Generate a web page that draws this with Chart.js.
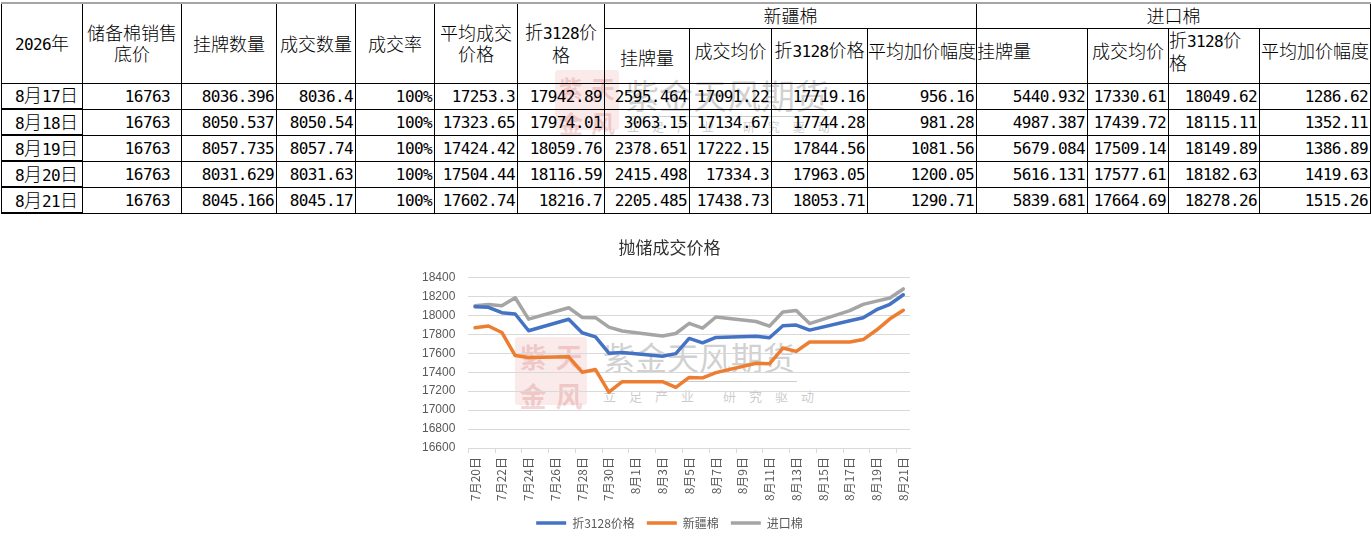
<!DOCTYPE html>
<html lang="zh-CN">
<head>
<meta charset="utf-8">
<title>抛储成交价格</title>
<script src="https://cdn.jsdelivr.net/npm/chart.js@4.4.1/dist/chart.umd.min.js"></script>
<style>
html, body { margin: 0; padding: 0; background: #fff; }
body { width: 1371px; height: 545px; position: relative; overflow: hidden; font-family: "Noto Sans CJK SC", sans-serif; }

#tbl { position: absolute; left: 1px; top: 2px; width: 1369px; border-collapse: collapse; table-layout: fixed; z-index: 2; font-size: 18px; font-weight: 300; color: #000; }
#tbl td { border: 1px solid #000; padding: 0 2px 0 0; white-space: nowrap; overflow: visible; line-height: 21px; text-align: right; vertical-align: middle; }
#tbl tr.a td, #tbl tr.b td { text-align: center; padding: 0; }
#tbl tr.a td { border-top: 2px solid #a6a6a6; }
#tbl tr.a { height: 25px; }
#tbl tr.b { height: 55px; }
#tbl tr.d { height: 26px; }
#tbl td.dt { border-bottom: 2px solid #000; padding-right: 4px; }
#tbl .up { padding-bottom: 10px !important; }
#tbl .lt { text-align: left !important; }
.n { font-family: "DejaVu Sans Mono", monospace; font-size: 16px; letter-spacing: -0.6px; font-weight: normal; }

#chartBox { position: absolute; left: 397px; top: 232px; width: 543px; height: 307px; z-index: 2; }

.seal { position: absolute; background: rgba(236, 170, 170, 0.25); border-radius: 3px; z-index: 1;
        display: grid; grid-template-columns: 1fr 1fr; grid-template-rows: 1fr 1fr; place-items: center;
        color: rgba(215, 110, 110, 0.28); font-family: "Noto Sans CJK SC"; font-weight: bold; }
.wmText { position: absolute; z-index: 1; color: rgba(170, 170, 170, 0.55); white-space: nowrap; line-height: 1; }
.wmLine { position: absolute; z-index: 1; height: 1px; background: rgba(170, 170, 170, 0.6); }
.wmSub { position: absolute; z-index: 1; color: rgba(170, 170, 170, 0.6); white-space: nowrap; line-height: 1; letter-spacing: 13px; }
</style>
</head>
<body>

<table id="tbl">
  <colgroup>
    <col style="width:81px"><col style="width:99px"><col style="width:95px"><col style="width:79px">
    <col style="width:79px"><col style="width:83px"><col style="width:87px"><col style="width:85px">
    <col style="width:82px"><col style="width:96px"><col style="width:109px"><col style="width:111px">
    <col style="width:81px"><col style="width:91px"><col style="width:111px">
  </colgroup>
  <tbody id="tbody">
    <tr class="a">
      <td rowspan="2"><span class="n">2026</span>年</td>
      <td rowspan="2">储备棉销售<br>底价</td>
      <td rowspan="2">挂牌数量</td>
      <td rowspan="2">成交数量</td>
      <td rowspan="2">成交率</td>
      <td rowspan="2">平均成交<br>价格</td>
      <td rowspan="2">折<span class="n">3128</span>价<br>格</td>
      <td colspan="4">新疆棉</td>
      <td colspan="4">进口棉</td>
    </tr>
    <tr class="b">
      <td style="padding-top:4px">挂牌量</td>
      <td class="up">成交均价</td>
      <td class="up">折<span class="n">3128</span>价格</td>
      <td class="up">平均加价幅度</td>
      <td class="up lt">挂牌量</td>
      <td class="up">成交均价</td>
      <td class="up lt">折<span class="n">3128</span>价<br>格</td>
      <td class="up">平均加价幅度</td>
    </tr>
  </tbody>
</table>

<!-- watermark over the table -->
<div class="seal" style="left:555px;top:70px;width:64px;height:60px;font-size:24px"><span>紫</span><span>天</span><span>金</span><span>风</span></div>
<div class="wmText" style="left:625px;top:78px;font-size:34px">紫金天风期货</div>
<div class="wmLine" style="left:625px;top:116px;width:205px"></div>
<div class="wmSub" style="left:627px;top:121px;font-size:12px">立足产业&nbsp;研究驱动</div>

<!-- watermark over the chart -->
<div class="seal" style="left:515px;top:337px;width:72px;height:68px;font-size:27px"><span>紫</span><span>天</span><span>金</span><span>风</span></div>
<div class="wmText" style="left:603px;top:340px;font-size:32px">紫金天风期货</div>
<div class="wmLine" style="left:603px;top:381px;width:194px"></div>
<div class="wmSub" style="left:603px;top:389px;font-size:13px">立足产业&nbsp;研究驱动</div>

<div id="chartBox"><canvas id="chart"></canvas></div>

<script>
// table: 2026年 8月17日-8月21日
const dates = ['8月17日', '8月18日', '8月19日', '8月20日', '8月21日']
const floorPrice = [16763, 16763, 16763, 16763, 16763]
const listedQty = ['8036.396', '8050.537', '8057.735', '8031.629', '8045.166']
const dealQty = ['8036.4', '8050.54', '8057.74', '8031.63', '8045.17']
const dealRate = ['100%', '100%', '100%', '100%', '100%']
const avgDealPrice = ['17253.3', '17323.65', '17424.42', '17504.44', '17602.74']
const avg3128Price = ['17942.89', '17974.01', '18059.76', '18116.59', '18216.7']

const xjListed = ['2595.464', '3063.15', '2378.651', '2415.498', '2205.485']
const xjAvgPrice = ['17091.22', '17134.67', '17222.15', '17334.3', '17438.73']
const xj3128Price = ['17719.16', '17744.28', '17844.56', '17963.05', '18053.71']
const xjMarkup = ['956.16', '981.28', '1081.56', '1200.05', '1290.71']

const jkListed = ['5440.932', '4987.387', '5679.084', '5616.131', '5839.681']
const jkAvgPrice = ['17330.61', '17439.72', '17509.14', '17577.61', '17664.69']
const jk3128Price = ['18049.62', '18115.11', '18149.89', '18182.63', '18278.26']
const jkMarkup = ['1286.62', '1352.11', '1386.89', '1419.63', '1515.26']

// chart: 抛储成交价格 (daily axis, weekends have no trade)
const days = ['7月20日', '7月21日', '7月22日', '7月23日', '7月24日', '7月25日', '7月26日',
    '7月27日', '7月28日', '7月29日', '7月30日', '7月31日', '8月1日', '8月2日',
    '8月3日', '8月4日', '8月5日', '8月6日', '8月7日', '8月8日', '8月9日',
    '8月10日', '8月11日', '8月12日', '8月13日', '8月14日', '8月15日', '8月16日',
    '8月17日', '8月18日', '8月19日', '8月20日', '8月21日']

const line3128 = [18090, 18085, 18028, 18014, 17837, null, null,
    17958, 17816, 17773, 17600, 17607, null, null,
    17568, 17596, 17756, 17710, 17766, null, null,
    17780, 17763, 17890, 17897, 17844, null, null,
    17942.89, 17974.01, 18059.76, 18116.59, 18216.7]

const lineXinjiang = [17869, 17887, 17819, 17575, 17555, null, null,
    17562, 17400, 17428, 17190, 17300, null, null,
    17300, 17240, 17345, 17340, 17395, null, null,
    17495, 17488, 17655, 17620, 17718, null, null,
    17719.16, 17744.28, 17844.56, 17963.05, 18053.71]

const lineImport = [18100, 18115, 18100, 18185, 17960, null, null,
    18080, 17978, 17975, 17875, 17835, null, null,
    17782, 17808, 17915, 17865, 17982, null, null,
    17935, 17886, 18035, 18050, 17913, null, null,
    18049.62, 18115.11, 18149.89, 18182.63, 18278.26]

const seriesNames = ['折3128价格', '新疆棉', '进口棉']
const seriesColors = ['#4472C4', '#ED7D31', '#A5A5A5']

function dateCell(d) {
    // digits in the narrow font, 月/日 in CJK
    return d.replace(/(\d+)/g, '<span class="n">$1</span>')
}

const tbody = document.getElementById('tbody')
for (let i = 0; i < dates.length; i++) {
    const cols = [floorPrice[i], listedQty[i], dealQty[i], dealRate[i], avgDealPrice[i], avg3128Price[i],
        xjListed[i], xjAvgPrice[i], xj3128Price[i], xjMarkup[i],
        jkListed[i], jkAvgPrice[i], jk3128Price[i], jkMarkup[i]]
    let html = `<td class="dt">${dateCell(dates[i])}</td>`
    cols.forEach((v, k) => {
        const pad = k === 0 ? ' style="padding-right:11px"' : ''
        html += `<td class="n"${pad}>${v}</td>`
    })
    const tr = document.createElement('tr')
    tr.className = 'd'
    tr.innerHTML = html
    tbody.appendChild(tr)
}

const gridGray = '#d9d9d9'
const textGray = '#595959'

const data = {
    labels: days,
    datasets: [line3128, lineXinjiang, lineImport].map((values, i) => ({
        label: seriesNames[i],
        data: values,
        borderColor: seriesColors[i],
        backgroundColor: seriesColors[i],
        borderWidth: 3.5,
        pointRadius: 0,
        pointStyle: 'line',
        tension: 0,
        spanGaps: true
    }))
}

const config = {
    type: 'line',
    data: data,
    options: {
        responsive: true,
        maintainAspectRatio: false,
        animation: false,
        layout: { padding: { left: 12, right: 10, top: 0, bottom: 0 } },
        elements: { line: { borderJoinStyle: 'round', borderCapStyle: 'round' } },
        plugins: {
            title: {
                display: true,
                text: '抛储成交价格',
                color: '#333333',
                font: { family: 'Noto Sans CJK SC', size: 17, weight: 'normal' },
                padding: { top: 5, bottom: 20 }
            },
            legend: {
                position: 'bottom',
                labels: {
                    usePointStyle: true,
                    pointStyle: 'line',
                    pointStyleWidth: 30,
                    padding: 12,
                    color: textGray,
                    font: { family: 'Noto Sans CJK SC', size: 12 }
                }
            },
            tooltip: { enabled: false }
        },
        scales: {
            x: {
                offset: true,
                grid: {
                    offset: true,
                    drawOnChartArea: false,
                    tickLength: 5,
                    color: ctx => (ctx.index % 2 === 0 ? gridGray : 'rgba(0,0,0,0)')
                },
                border: { color: gridGray },
                ticks: {
                    autoSkip: false,
                    minRotation: 90,
                    maxRotation: 90,
                    padding: 4,
                    color: textGray,
                    font: { family: 'Noto Sans CJK SC', size: 12 },
                    callback: (v, i) => (i % 2 === 0 ? days[i] : '')
                }
            },
            y: {
                min: 16600,
                max: 18400,
                grid: { color: gridGray, drawTicks: false },
                border: { display: false },
                ticks: {
                    stepSize: 200,
                    padding: 13,
                    color: textGray,
                    font: { family: 'Liberation Sans', size: 12 },
                    callback: v => String(v)
                }
            },
            // empty right margin so title and legend sit where Excel puts them
            yRight: {
                position: 'right',
                min: 16600,
                max: 18400,
                grid: { display: false },
                border: { display: false },
                ticks: { display: false },
                afterFit: scale => { scale.width = 20 }
            }
        }
    }
}

const lineChart = new Chart(document.getElementById('chart'), config)
</script>
</body>
</html>
